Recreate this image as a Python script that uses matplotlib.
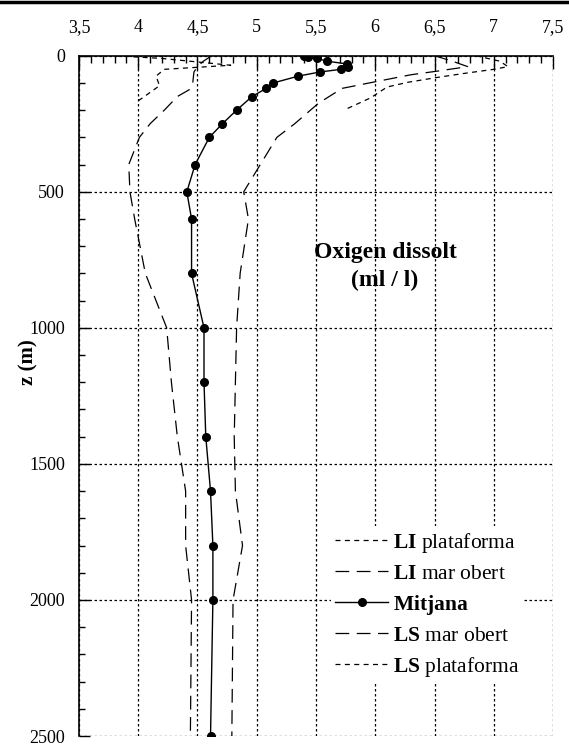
import numpy as np
import matplotlib.pyplot as plt
from matplotlib.lines import Line2D
from matplotlib.ticker import MultipleLocator

plt.rcParams['font.family'] = ['Liberation Serif', 'DejaVu Serif']
plt.rcParams['mathtext.fontset'] = 'custom'
plt.rcParams['mathtext.rm'] = 'Liberation Serif'
plt.rcParams['mathtext.bf'] = 'Liberation Serif:bold'

# Perfils d'oxigen dissolt (ml/l) en funció de la profunditat (m)
prof_mitjana = [0, 5, 10, 20, 30, 40, 50, 60, 75, 100, 120, 150, 200, 250, 300,
                400, 500, 600, 800, 1000, 1200, 1400, 1600, 1800, 2000, 2500]
oxi_mitjana = [5.40, 5.43, 5.51, 5.59, 5.76, 5.77, 5.71, 5.53, 5.35, 5.14, 5.08, 4.96,
               4.83, 4.71, 4.60, 4.48, 4.41, 4.45, 4.45, 4.555, 4.555, 4.57, 4.61,
               4.63, 4.63, 4.61]

prof_li_mar = [0, 20, 40, 60, 100, 125, 150, 200, 250, 300, 400, 500, 600, 800,
               1000, 1200, 1400, 1600, 1800, 2000, 2500]
oxi_li_mar = [4.62, 4.55, 4.50, 4.47, 4.46, 4.43, 4.33, 4.22, 4.10, 4.01, 3.92, 3.93,
              3.97, 4.06, 4.24, 4.28, 4.33, 4.40, 4.40, 4.45, 4.44]

prof_ls_mar = [0, 20, 40, 55, 70, 100, 120, 175, 250, 300, 400, 500, 600, 800,
               1000, 1200, 1400, 1600, 1800, 2000, 2500]
oxi_ls_mar = [6.50, 6.65, 6.78, 6.55, 6.30, 5.95, 5.72, 5.52, 5.32, 5.17, 5.03, 4.89,
              4.93, 4.86, 4.83, 4.82, 4.81, 4.82, 4.88, 4.80, 4.79]

prof_li_plat = [0, 10, 35, 50, 75, 110, 135, 175]
oxi_li_plat = [3.80, 4.20, 4.78, 4.22, 4.15, 4.18, 4.10, 3.97]

prof_ls_plat = [0, 20, 40, 50, 65, 80, 98, 115, 155, 195]
oxi_ls_plat = [6.85, 7.05, 7.12, 7.00, 6.75, 6.52, 6.27, 6.10, 5.96, 5.76]

xticks = [3.5, 4, 4.5, 5, 5.5, 6, 6.5, 7, 7.5]
xticklabels = ['3,5', '4', '4,5', '5', '5,5', '6', '6,5', '7', '7,5']
yticks = [0, 500, 1000, 1500, 2000, 2500]

fig = plt.figure(figsize=(5.69, 7.47), dpi=100)
ax = fig.add_axes([0.1388, 0.0147, 0.8331, 0.9107])

curt = (0, (4, 3.5))
llarg = (0, (11, 6))

ax.plot(oxi_li_plat, prof_li_plat, color='black', lw=0.9, ls=curt,
        label=r'$\mathbf{LI}$ plataforma')
ax.plot(oxi_li_mar, prof_li_mar, color='black', lw=0.9, ls=llarg,
        label=r'$\mathbf{LI}$ mar obert')
ax.plot(oxi_mitjana, prof_mitjana, color='black', lw=1.0, marker='o', ms=5.5,
        label=r'$\mathbf{Mitjana}$')
ax.plot(oxi_ls_mar, prof_ls_mar, color='black', lw=0.9, ls=llarg,
        label=r'$\mathbf{LS}$ mar obert')
ax.plot(oxi_ls_plat, prof_ls_plat, color='black', lw=0.9, ls=curt,
        label=r'$\mathbf{LS}$ plataforma')

ax.set_xlim(3.5, 7.5)
ax.set_ylim(2500, 0)
ax.xaxis.tick_top()
ax.set_xticks(xticks)
ax.set_xticklabels(xticklabels)
ax.set_yticks(yticks)
ax.xaxis.set_minor_locator(MultipleLocator(0.1))
ax.yaxis.set_minor_locator(MultipleLocator(100))
ax.tick_params(axis='x', which='major', direction='in', length=9, width=1,
               labelsize=13, pad=14)
ax.tick_params(axis='x', which='minor', direction='in', length=5, width=1)
ax.tick_params(axis='y', which='major', direction='in', length=8, width=1,
               labelsize=13, pad=10)
ax.tick_params(axis='y', which='minor', direction='in', length=4, width=1)

ax.grid(True, which='major', color='black', ls=(0, (2, 2)), lw=0.9)
for s in ['right', 'bottom']:
    ax.spines[s].set_visible(False)
ax.spines['top'].set_linewidth(1.2)
ax.spines['left'].set_linewidth(1.2)

ax.set_ylabel('z (m)', fontsize=15, fontweight='bold')
ax.yaxis.set_label_coords(-0.085, 0.55)

ax.text(0.6456, 0.69, 'Oxigen dissolt\n(ml / l)', transform=ax.transAxes,
        ha='center', va='center', fontsize=17, fontweight='bold', linespacing=1.45)

leg = ax.legend(loc='upper left', bbox_to_anchor=(0.509, 0.324), fontsize=15.5,
                frameon=True, framealpha=1, edgecolor='none', fancybox=False,
                handlelength=2.45, handletextpad=0.25, labelspacing=0.42,
                borderpad=0.2)

# línia superior de la pàgina
fig.add_artist(Line2D([0, 1], [0.997, 0.997], transform=fig.transFigure,
                      color='black', lw=2.5))

fig.savefig('out.png', dpi=100)
